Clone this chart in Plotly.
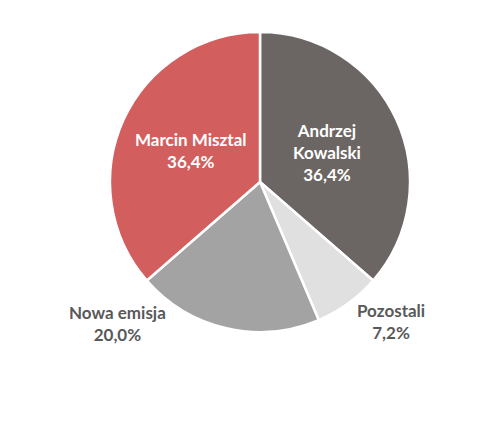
import plotly.graph_objects as go

labels = ["Andrzej Kowalski", "Pozostali", "Nowa emisja", "Marcin Misztal"]
label_lines = ["Andrzej<br>Kowalski", "Pozostali", "Nowa emisja", "Marcin Misztal"]
values = [36.4, 7.2, 20.0, 36.4]
value_text = ["36,4%", "7,2%", "20,0%", "36,4%"]
colors = ["#6b6663", "#e0e0e0", "#a3a3a3", "#d35e5e"]

W, H = 500, 421
OFF = 8  # page body margin
# target pie box in screen px: x 110..410, y 32..332
ml, mt = 110 - OFF, 32 - OFF
pw = ph = 300
mr, mb = W - ml - pw, H - mt - ph

fig = go.Figure(go.Pie(
    labels=labels, values=values, sort=False, direction="clockwise", rotation=0,
    marker=dict(colors=colors, line=dict(color="white", width=2.5)),
    textinfo="none", hoverinfo="label+percent", showlegend=False,
))

# label centres in screen px
label_pos = [(327, 152), (391, 321), (117, 323), (191, 150)]
label_color = ["white", "#595959", "#595959", "white"]

annotations = []
for lt, vt, (px, py), c in zip(label_lines, value_text, label_pos, label_color):
    annotations.append(dict(
        text=f"<b>{lt}<br>{vt}</b>",
        x=(px - OFF - ml) / pw, y=1 - (py - OFF - mt) / ph,
        xref="paper", yref="paper",
        showarrow=False, font=dict(family="Lato", size=17, color=c), align="center",
        xanchor="center", yanchor="middle",
    ))

fig.update_layout(
    width=W, height=H, margin=dict(l=ml, r=mr, t=mt, b=mb),
    paper_bgcolor="white", plot_bgcolor="white", annotations=annotations,
)
fig.write_html("out.html")
